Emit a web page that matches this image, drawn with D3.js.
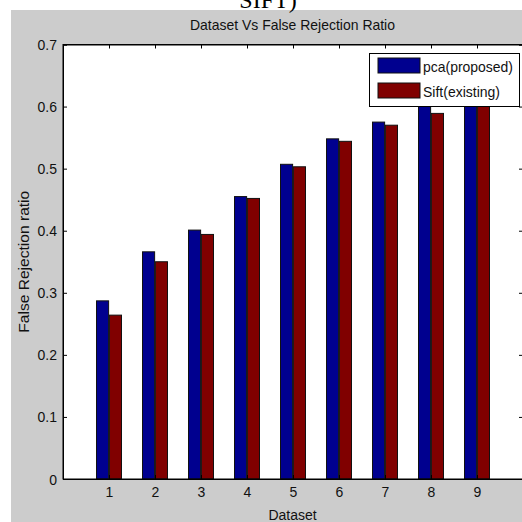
<!DOCTYPE html>
<html><head><meta charset="utf-8">
<script src="https://cdn.jsdelivr.net/npm/d3@7"></script>
<style>body{margin:0;background:#fff}svg{display:block}text{font-family:"Liberation Sans",Arial,sans-serif}</style>
</head><body>
<script>
const categories = [1,2,3,4,5,6,7,8,9];
const seriesNames = ["pca(proposed)", "Sift(existing)"];
const pcaValues  = [0.287, 0.366, 0.401, 0.455, 0.507, 0.548, 0.575, 0.610, 0.625];
const siftValues = [0.264, 0.350, 0.394, 0.452, 0.503, 0.544, 0.570, 0.589, 0.615];
const seriesColors = ["#00008f", "#800000"];
const yTicks = [0,0.1,0.2,0.3,0.4,0.5,0.6,0.7];
const yTickLabels = ["0","0.1","0.2","0.3","0.4","0.5","0.6","0.7"];
const titleText = "Dataset Vs False Rejection Ratio";
const xLabel = "Dataset";
const yLabel = "False Rejection ratio";
const topCut = "SIFT)";

const W = 522, H = 522;
const svg = d3.select("body").append("svg").attr("width", W).attr("height", H);
svg.append("rect").attr("x",0).attr("y",0).attr("width",W).attr("height",H).attr("fill","#fff");
svg.append("rect").attr("x",11).attr("y",10).attr("width",W-11).attr("height",H-10).attr("fill","#cccccc");
svg.append("text").attr("x",268).attr("y",8).attr("text-anchor","middle")
  .style("font-family","'Liberation Serif','Times New Roman',serif").style("font-size","24px").text(topCut);

const L = 63, R = 523, T = 44.5, B = 479;
const x = d3.scaleLinear().domain([0,10]).range([L,R]);
const y = d3.scaleLinear().domain([0,0.7]).range([B,T]);
const sub = d3.scaleBand().domain(seriesNames).range([-12.5,12.5]).paddingInner(0.06);

svg.append("rect").attr("x",L).attr("y",T).attr("width",R-L).attr("height",B-T).attr("fill","#fff");

const data = categories.map((c,i)=>({c, vals:[pcaValues[i], siftValues[i]]}));
const g = svg.append("g");
data.forEach(d=>{
  d.vals.forEach((v,j)=>{
    g.append("rect")
      .attr("x", x(d.c)+sub(seriesNames[j]))
      .attr("y", y(v))
      .attr("width", sub.bandwidth())
      .attr("height", y(0)-y(v))
      .attr("fill", seriesColors[j])
      .attr("stroke", "#111").attr("stroke-width", 1);
  });
});

// axes
const fs = "14px";
const ax = svg.append("g").attr("transform",`translate(0,${B})`)
  .call(d3.axisBottom(x).tickValues(categories).tickSize(-4).tickPadding(8).tickFormat(d3.format("d")));
const axT = svg.append("g").attr("transform",`translate(0,${T})`)
  .call(d3.axisTop(x).tickValues(categories).tickSize(-4).tickFormat(""));
const ay = svg.append("g").attr("transform",`translate(${L},0)`)
  .call(d3.axisLeft(y).tickValues(yTicks).tickSize(-4).tickPadding(6).tickFormat((d,i)=>yTickLabels[i]));
const ayR = svg.append("g").attr("transform",`translate(${R},0)`)
  .call(d3.axisRight(y).tickValues(yTicks).tickSize(-4).tickFormat(""));
[ax,axT,ay,ayR].forEach(a=>{
  a.select(".domain").attr("stroke","#000");
  a.selectAll(".tick line").attr("stroke","#000");
  a.selectAll("text").style("font-size",fs).attr("fill","#111").style("font-family","'Liberation Sans',Arial,sans-serif");
});
ay.selectAll(".tick text").attr("dy","0.36em");
svg.append("rect").attr("x",L).attr("y",T).attr("width",R-L).attr("height",B-T).attr("fill","none").attr("stroke","#000");

svg.append("text").attr("x",292.5).attr("y",30).attr("text-anchor","middle")
  .attr("textLength",205).attr("lengthAdjust","spacingAndGlyphs")
  .style("font-size","15px").attr("fill","#111").text(titleText);
svg.append("text").attr("x",292.5).attr("y",520).attr("text-anchor","middle")
  .style("font-size","14px").attr("fill","#111").text(xLabel);
svg.append("text").attr("transform",`translate(29,${(T+B)/2}) rotate(-90)`).attr("text-anchor","middle")
  .attr("textLength",142).attr("lengthAdjust","spacingAndGlyphs")
  .style("font-size","14.5px").attr("fill","#111").text(yLabel);

// legend
const lg = svg.append("g");
lg.append("rect").attr("x",369.5).attr("y",53.5).attr("width",150).attr("height",53).attr("fill","#fff").attr("stroke","#000");
const legLens = [90, 77];
seriesNames.forEach((n,j)=>{
  lg.append("rect").attr("x",378).attr("y",58+j*25).attr("width",42).attr("height",15)
    .attr("fill",seriesColors[j]).attr("stroke","#111");
  lg.append("text").attr("x",423).attr("y",71.5+j*25)
    .attr("textLength",legLens[j]).attr("lengthAdjust","spacingAndGlyphs")
    .style("font-size","15px").attr("fill","#111").text(n);
});
</script>
</body></html>
